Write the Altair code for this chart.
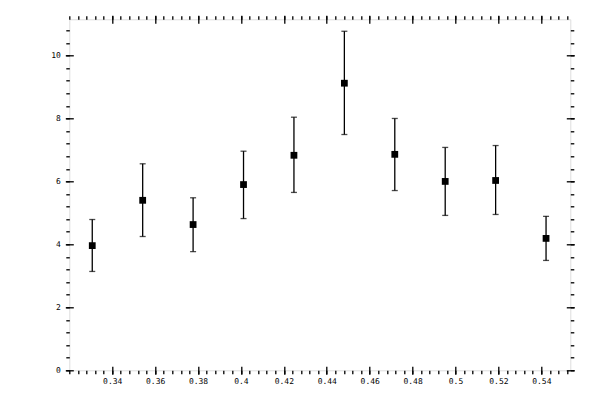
import altair as alt
import pandas as pd

# measured points with symmetric-ish error bars
x_vals = [0.3307, 0.3542, 0.3777, 0.4012, 0.4247, 0.4482, 0.4717, 0.4952, 0.5187, 0.5422]
y_vals = [3.96, 5.40, 4.63, 5.90, 6.83, 9.12, 6.86, 6.00, 6.03, 4.19]
y_hi = [4.79, 6.56, 5.48, 6.96, 8.04, 10.77, 8.00, 7.08, 7.14, 4.89]
y_lo = [3.14, 4.25, 3.77, 4.82, 5.65, 7.49, 5.71, 4.92, 4.95, 3.49]

x_major = [0.34, 0.36, 0.38, 0.40, 0.42, 0.44, 0.46, 0.48, 0.50, 0.52, 0.54]
y_major = [0, 2, 4, 6, 8, 10]

x_minor = [round(0.32 + 0.004 * i, 3) for i in range(59)]
y_minor = [round(0.4 * i, 1) for i in range(28)]

df = pd.DataFrame({'x': x_vals, 'y': y_vals, 'hi': y_hi, 'lo': y_lo})

xs = alt.Scale(domain=[0.32, 0.5535], nice=False, zero=False)
ys = alt.Scale(domain=[0, 11.15], nice=False, zero=False)

FONT = 'DejaVu Sans Mono'


def minor_axis(orient, values):
    return alt.Axis(orient=orient, values=values, tickSize=3.5, labels=False,
                    domain=False, grid=False, title=None, tickColor='black',
                    tickWidth=1.3)


def major_axis(orient, values, labels, pad, fmt):
    return alt.Axis(orient=orient, values=values, tickSize=8, offset=-4,
                    labels=labels, labelPadding=pad, format=fmt,
                    labelFont=FONT, labelFontSize=8, labelColor='black',
                    domain=False, grid=False, title=None, tickColor='black',
                    tickWidth=1.3)


bars = alt.Chart(df).mark_rule(color='black', strokeWidth=1.3).encode(
    x=alt.X('x:Q', scale=xs, axis=minor_axis('bottom', x_minor)),
    y=alt.Y('lo:Q', scale=ys, axis=minor_axis('left', y_minor)),
    y2='hi:Q'
)

caps_lo = alt.Chart(df).mark_tick(orient='horizontal', size=6, thickness=1.3,
                                  color='black').encode(
    x=alt.X('x:Q', scale=xs, axis=major_axis('bottom', x_major, True, 3, '~g')),
    y=alt.Y('lo:Q', scale=ys, axis=major_axis('left', y_major, True, 5, 'd'))
)

caps_hi = alt.Chart(df).mark_tick(orient='horizontal', size=6, thickness=1.3,
                                  color='black').encode(
    x=alt.X('x:Q', scale=xs, axis=minor_axis('top', x_minor)),
    y=alt.Y('hi:Q', scale=ys, axis=minor_axis('right', y_minor))
)

squares = alt.Chart(df).mark_square(size=46, color='black', opacity=1).encode(
    x=alt.X('x:Q', scale=xs, axis=major_axis('top', x_major, False, 3, '~g')),
    y=alt.Y('y:Q', scale=ys, axis=major_axis('right', y_major, False, 5, 'd'))
)

chart = alt.layer(bars, caps_lo, caps_hi, squares).resolve_axis(
    x='independent', y='independent'
).properties(
    width=501,
    height=351,
    autosize=alt.AutoSizeParams(type='none'),
    padding={'left': 61.3, 'top': 11.3, 'right': 20, 'bottom': 20}
).configure_view(
    stroke='black',
    strokeWidth=1.3
).configure(background='white')

chart.save("out.html", embed_options={"renderer": "svg", "actions": False})
